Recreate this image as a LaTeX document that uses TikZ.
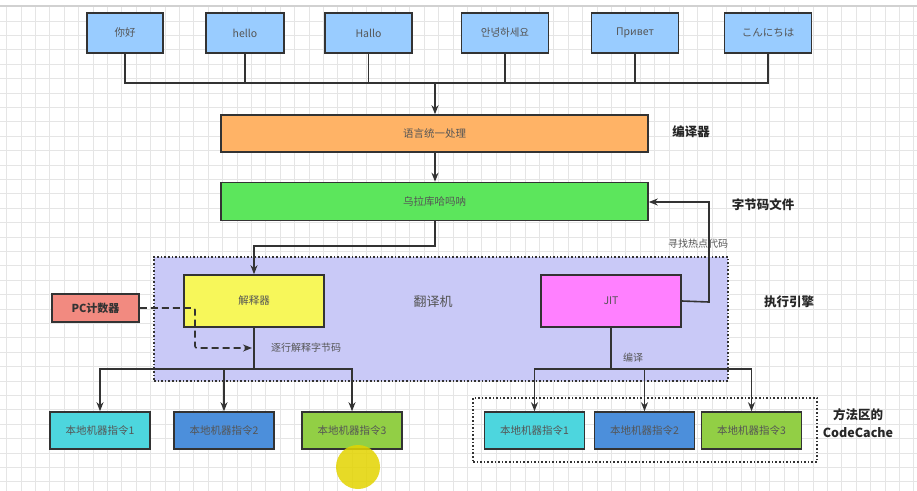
\documentclass[tikz,border=0pt]{standalone}
\usepackage{fontspec}
\setmainfont{Noto Sans CJK SC}
\usetikzlibrary{arrows.meta}

\definecolor{linegray}{HTML}{333333}
\definecolor{textgray}{HTML}{555555}
\definecolor{langblue}{HTML}{99CCFF}
\definecolor{unifyorange}{HTML}{FFB366}
\definecolor{bytegreen}{HTML}{5CE65C}
\definecolor{enginepurple}{HTML}{C9C9F7}
\definecolor{interpyellow}{HTML}{F7F75A}
\definecolor{jitpink}{HTML}{FF80FF}
\definecolor{pcred}{HTML}{F28A80}
\definecolor{nativecyan}{HTML}{4DD6DE}
\definecolor{nativeblue}{HTML}{4C8FDB}
\definecolor{nativelime}{HTML}{92CF45}
\definecolor{cursoryellow}{HTML}{E3D400}

\begin{document}
\begin{tikzpicture}[x=1pt,y=-1pt,
  box/.style={draw=linegray,line width=1.6pt,text=textgray,inner sep=0pt,
    font=\fontsize{10.5}{12}\selectfont},
  langbox/.style={box,fill=langblue,minimum height=40pt},
  native/.style={box,minimum width=100pt,minimum height=37pt},
  tag/.style={font=\bfseries\fontsize{12.5}{15}\selectfont,text=black!85},
  note/.style={text=textgray,font=\fontsize{10}{11}\selectfont},
  conn/.style={draw=linegray,line width=1.6pt},
  arr/.style={conn,-{Stealth[length=9pt,width=7pt]}}]
\useasboundingbox (0,0) rectangle (917,490);
\fill[white] (0,0) rectangle (917,490);
\draw[black!10,line width=0.7pt,step=14.4pt,shift={(6.5,6.5)}] (-6.5,0) grid (917,490);
\fill[black!18] (0,4.5) rectangle (917,7);

% container boxes
\node[draw=linegray,line width=1.6pt,dotted,fill=enginepurple,
  minimum width=574pt,minimum height=124pt,inner sep=0pt] (engine) at (441,319) {};
\node[draw=linegray,line width=1.6pt,dotted,
  minimum width=344pt,minimum height=64pt,inner sep=0pt] (cache) at (645,430) {};

% source languages
\node[langbox,minimum width=76pt] (t1) at (125,33) {你好};
\node[langbox,minimum width=78pt] (t2) at (245,33) {hello};
\node[langbox,minimum width=87pt] (t3) at (368.5,33) {Hallo};
\node[langbox,minimum width=87pt] (t4) at (505,33) {안녕하세요};
\node[langbox,minimum width=87pt] (t5) at (635,33) {Привет};
\node[langbox,minimum width=87pt] (t6) at (768,33) {こんにちは};

\node[box,fill=unifyorange,minimum width=427pt,minimum height=37pt] (unify) at (434.5,133.5) {语言统一处理};
\node[box,fill=bytegreen,minimum width=427pt,minimum height=38pt] (bytecode) at (434.5,201.5) {乌拉库哈吗呐};

\node[box,fill=interpyellow,minimum width=140pt,minimum height=52pt] (interp) at (254,301) {解释器};
\node[box,fill=jitpink,minimum width=140pt,minimum height=52pt] (jit) at (611,301) {JIT};
\node[box,fill=pcred,text=black!80,minimum width=87pt,minimum height=28pt,
  font=\bfseries\fontsize{11}{13}\selectfont] (pc) at (95.5,308) {PC计数器};

\node[native,fill=nativecyan] (n1) at (100,430.5) {本地机器指令1};
\node[native,fill=nativeblue] (n2) at (224,430.5) {本地机器指令2};
\node[native,fill=nativelime] (n3) at (352,430.5) {本地机器指令3};
\node[native,fill=nativecyan] (m1) at (534.5,430.5) {本地机器指令1};
\node[native,fill=nativeblue] (m2) at (644.5,430.5) {本地机器指令2};
\node[native,fill=nativelime] (m3) at (751.5,430.5) {本地机器指令3};

% labels
\node[tag] (lcompiler) at (691,132) {编译器};
\node[tag] (lbytecode) at (763,205) {字节码文件};
\node[tag] (lengine) at (789,302) {执行引擎};
\node[tag,text=textgray,font=\fontsize{13}{15}\selectfont] (ltrans) at (433,302) {翻译机};
\node[tag,align=center,font=\bfseries\fontsize{12.5}{18}\selectfont] (lcache) at (858,423) {方法区的\\CodeCache};
\node[note] (lhot) at (698,244) {寻找热点代码};
\node[note] (lline) at (306,348) {逐行解释字节码};
\node[note] (lcomp) at (633,358) {编译};

% connectors
\coordinate (bus) at (435,83);
\foreach \n in {t1,t2,t3,t4,t5,t6}
  \draw[conn] (\n.south) |- (bus);
\draw[arr] (bus) -- (unify.north -| bus);
\draw[arr] (unify.south -| bus) -- (bytecode.north -| bus);
\draw[arr] (bytecode.south -| bus) |- (254,246) -- (interp.north);

\coordinate (hot) at (709,302);
\draw[arr] (jit.east) -- (hot) |- (bytecode.east |- 0,202);

\coordinate (pcturn) at (195,348);
\coordinate (pcend) at (252,348);
\draw[arr,dash pattern=on 7pt off 4pt,rounded corners=2pt] (pc.east) -| (pcturn) -- (pcend);

\coordinate (ibus) at (254,369);
\draw[conn] (interp.south) -- (ibus);
\foreach \n in {n1,n2,n3}
  \draw[arr] (ibus) -| (\n.north);

\coordinate (jbus) at (611,369);
\draw[conn] (jit.south) -- (jbus);
\foreach \n in {m1,m2,m3}
  \draw[arr] (jbus) -| (\n.north);

% cursor highlight
\fill[cursoryellow,opacity=0.85] (358,467) circle (22);
\end{tikzpicture}
\end{document}
